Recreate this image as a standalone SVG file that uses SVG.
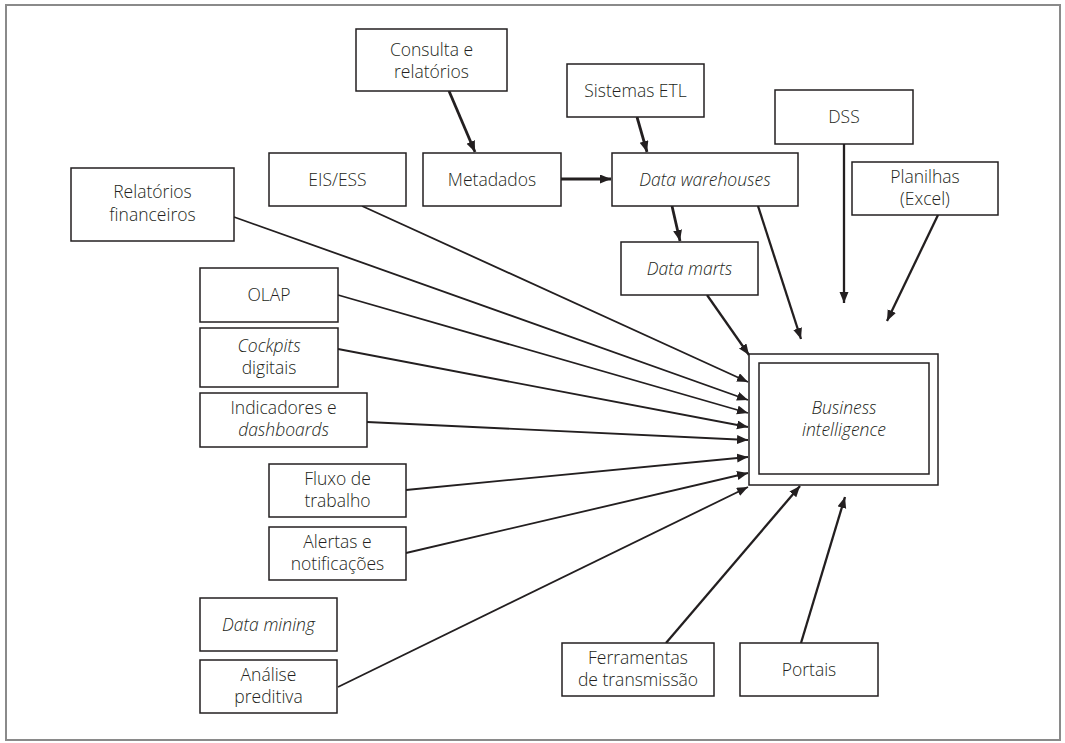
<svg xmlns="http://www.w3.org/2000/svg" width="1065" height="743" viewBox="0 0 1065 743">
<style>
.frame{fill:#fff;stroke:#8a8a8a;stroke-width:2}
.box{fill:#fff;stroke:#231f20;stroke-width:1.5}
.t{font-family:"Open Sans","Liberation Sans",sans-serif;font-size:17.5px;font-weight:300;fill:#231f20;text-anchor:middle}
.i{font-style:italic}
.c{fill:none;stroke:#231f20;stroke-width:1.8}
.c2{fill:none;stroke:#231f20;stroke-width:2.3}
.c3{fill:none;stroke:#231f20;stroke-width:2.8}
</style>
<defs>
<marker id="ah" markerUnits="userSpaceOnUse" markerWidth="12" markerHeight="10" refX="11" refY="4.5" orient="auto">
<path d="M0,0 L11,4.5 L0,9 z" fill="#231f20"/>
</marker>
</defs>
<rect class="frame" x="6" y="5" width="1054" height="735"/>
<g id="connectors">
<line class="c3" x1="449" y1="91" x2="475" y2="152" marker-end="url(#ah)"/>
<line class="c3" x1="561" y1="179" x2="611" y2="179" marker-end="url(#ah)"/>
<line class="c3" x1="637" y1="117" x2="647" y2="152" marker-end="url(#ah)"/>
<line class="c3" x1="672" y1="206" x2="680" y2="241" marker-end="url(#ah)"/>
<line class="c2" x1="844" y1="144" x2="844" y2="303" marker-end="url(#ah)"/>
<line class="c2" x1="938" y1="215" x2="887" y2="321" marker-end="url(#ah)"/>
<line class="c2" x1="758" y1="206" x2="801" y2="339" marker-end="url(#ah)"/>
<line class="c2" x1="707" y1="295" x2="749" y2="355" marker-end="url(#ah)"/>
<line class="c" x1="362" y1="206" x2="748" y2="382" marker-end="url(#ah)"/>
<line class="c" x1="234" y1="217" x2="748" y2="400" marker-end="url(#ah)"/>
<line class="c" x1="338" y1="295" x2="748" y2="413" marker-end="url(#ah)"/>
<line class="c" x1="338" y1="349" x2="748" y2="427" marker-end="url(#ah)"/>
<line class="c" x1="367" y1="422" x2="748" y2="440" marker-end="url(#ah)"/>
<line class="c" x1="406" y1="490" x2="748" y2="457" marker-end="url(#ah)"/>
<line class="c" x1="406" y1="553" x2="748" y2="473" marker-end="url(#ah)"/>
<line class="c" x1="338" y1="687" x2="748" y2="487" marker-end="url(#ah)"/>
<line class="c2" x1="666" y1="643" x2="800" y2="486" marker-end="url(#ah)"/>
<line class="c2" x1="801" y1="643" x2="845" y2="497" marker-end="url(#ah)"/>
</g>
<g id="consulta"><rect class="box" x="356" y="29" width="151" height="62"/><text class="t" x="431.5" y="55.5">Consulta e</text><text class="t" x="431.5" y="77.5">relatórios</text></g>
<g id="etl"><rect class="box" x="567" y="64" width="137" height="53"/><text class="t" x="635.5" y="96.5">Sistemas ETL</text></g>
<g id="dss"><rect class="box" x="775" y="90" width="138" height="54"/><text class="t" x="844" y="123">DSS</text></g>
<g id="eis"><rect class="box" x="269" y="153" width="137" height="53"/><text class="t" x="337.5" y="185.5">EIS/ESS</text></g>
<g id="metadados"><rect class="box" x="423" y="153" width="138" height="53"/><text class="t" x="492" y="185.5">Metadados</text></g>
<g id="dw"><rect class="box" x="612" y="153" width="186" height="53"/><text class="t i" x="705" y="185.5">Data warehouses</text></g>
<g id="planilhas"><rect class="box" x="852" y="162" width="146" height="53"/><text class="t" x="925" y="182.5">Planilhas</text><text class="t" x="925" y="204.5">(Excel)</text></g>
<g id="relfin"><rect class="box" x="71" y="168" width="163" height="73"/><text class="t" x="152.5" y="197.5">Relatórios</text><text class="t" x="152.5" y="221">financeiros</text></g>
<g id="datamarts"><rect class="box" x="621" y="242" width="137" height="53"/><text class="t i" x="689.5" y="274.5">Data marts</text></g>
<g id="olap"><rect class="box" x="200" y="268" width="138" height="54"/><text class="t" x="269" y="301">OLAP</text></g>
<g id="cockpits"><rect class="box" x="200" y="328" width="138" height="59"/><text class="t i" x="269" y="351.5">Cockpits</text><text class="t" x="269" y="373.5">digitais</text></g>
<g id="indicadores"><rect class="box" x="200" y="393" width="167" height="54"/><text class="t" x="283.5" y="414">Indicadores e</text><text class="t i" x="283.5" y="436">dashboards</text></g>
<g id="fluxo"><rect class="box" x="269" y="464" width="137" height="53"/><text class="t" x="337.5" y="484.5">Fluxo de</text><text class="t" x="337.5" y="506.5">trabalho</text></g>
<g id="alertas"><rect class="box" x="269" y="527" width="137" height="53"/><text class="t" x="337.5" y="547.5">Alertas e</text><text class="t" x="337.5" y="569.5">notificações</text></g>
<g id="datamining"><rect class="box" x="200" y="598" width="137" height="53"/><text class="t i" x="268.5" y="630.5">Data mining</text></g>
<g id="analise"><rect class="box" x="200" y="660" width="137" height="53"/><text class="t" x="268.5" y="680.5">Análise</text><text class="t" x="268.5" y="702.5">preditiva</text></g>
<g id="ferramentas"><rect class="box" x="562" y="643" width="152" height="53"/><text class="t" x="638" y="663.5">Ferramentas</text><text class="t" x="638" y="685.5">de transmissão</text></g>
<g id="portais"><rect class="box" x="740" y="643" width="138" height="53"/><text class="t" x="809" y="675.5">Portais</text></g>
<g id="bi"><rect class="box" x="749" y="354" width="189" height="131"/><rect class="box" x="759" y="363" width="170" height="111"/><text class="t i" x="844" y="413.5">Business</text><text class="t i" x="844" y="435.5">intelligence</text></g>
</svg>
